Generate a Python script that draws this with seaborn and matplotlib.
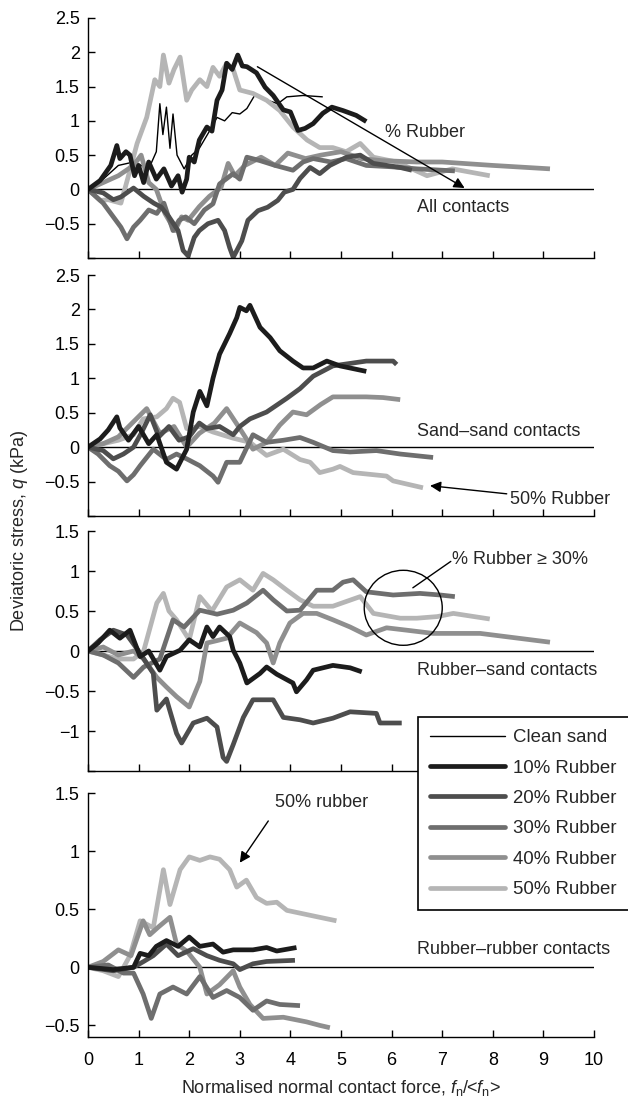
import matplotlib
matplotlib.use("Agg")
import matplotlib.pyplot as plt
import seaborn as sns
import numpy as np
import pandas as pd
from matplotlib.lines import Line2D
from matplotlib.patches import Ellipse
from matplotlib.ticker import FuncFormatter, MultipleLocator

# ---------------- data ----------------
series_labels = ["Clean sand", "10% Rubber", "20% Rubber", "30% Rubber", "40% Rubber", "50% Rubber"]
series_colors = ["#000000", "#1c1c1c", "#4d4d4d", "#6e6e6e", "#8f8f8f", "#b5b5b5"]
x_ticks = [0, 1, 2, 3, 4, 5, 6, 7, 8, 9, 10]

# Panel 1: all contacts
all_clean_x = [0, 0.3, 0.6, 0.9, 1.2, 1.35, 1.42, 1.48, 1.55, 1.62, 1.68, 1.76, 1.9, 2.05, 2.2, 2.4, 2.55, 2.7, 2.85, 3.0, 3.14, 3.3, 3.55, 3.75, 3.93, 4.25, 4.64]
all_clean_y = [0, 0.15, 0.35, 0.4, 0.3, 0.55, 1.25, 0.8, 1.2, 0.6, 1.1, 0.5, 0.3, 0.5, 0.6, 0.85, 1.05, 1.0, 1.12, 1.1, 1.18, 1.38, 1.3, 1.25, 1.35, 1.37, 1.35]
all_10_x = [0, 0.24, 0.45, 0.57, 0.63, 0.75, 0.83, 0.92, 1.0, 1.1, 1.2, 1.35, 1.5, 1.65, 1.78, 1.86, 1.95, 2.0, 2.1, 2.2, 2.35, 2.45, 2.55, 2.65, 2.74, 2.85, 2.96, 3.05, 3.14, 3.33, 3.5, 3.66, 3.86, 4.0, 4.15, 4.29, 4.45, 4.64, 4.82, 5.04, 5.3, 5.5]
all_10_y = [0, 0.13, 0.35, 0.64, 0.45, 0.55, 0.5, 0.2, 0.35, 0.1, 0.4, 0.15, 0.3, 0.05, 0.2, -0.04, 0.15, 0.47, 0.4, 0.72, 0.91, 0.85, 1.3, 1.45, 1.84, 1.75, 1.96, 1.8, 1.79, 1.7, 1.49, 1.37, 1.16, 1.13, 0.86, 0.89, 0.96, 1.11, 1.2, 1.15, 1.08, 0.99]
all_20_x = [0, 0.3, 0.5, 0.65, 0.9, 1.1, 1.3, 1.45, 1.6, 1.78, 1.88, 1.98, 2.1, 2.2, 2.37, 2.57, 2.7, 2.8, 2.87, 3.04, 3.16, 3.36, 3.55, 3.75, 3.88, 4.05, 4.19, 4.39, 4.58, 4.78, 5.11, 5.38, 5.64, 6.17, 6.4]
all_20_y = [0, -0.05, -0.15, -0.11, 0.02, -0.1, -0.2, -0.26, -0.4, -0.6, -0.89, -0.97, -0.7, -0.6, -0.5, -0.45, -0.6, -0.85, -0.99, -0.75, -0.45, -0.31, -0.26, -0.16, -0.04, 0.0, 0.16, 0.32, 0.23, 0.35, 0.47, 0.5, 0.38, 0.32, 0.28]
all_30_x = [0, 0.3, 0.5, 0.65, 0.77, 0.9, 1.03, 1.2, 1.36, 1.5, 1.68, 1.8, 1.93, 2.1, 2.3, 2.47, 2.6, 2.87, 3.0, 3.14, 3.4, 3.7, 4.05, 4.25, 4.45, 4.8, 5.1, 5.5, 6.0, 6.5, 7.25]
all_30_y = [0, -0.2, -0.4, -0.55, -0.72, -0.55, -0.45, -0.3, -0.35, -0.2, -0.6, -0.45, -0.4, -0.5, -0.3, -0.21, 0.08, 0.23, 0.15, 0.47, 0.42, 0.35, 0.28, 0.4, 0.45, 0.4, 0.45, 0.35, 0.33, 0.3, 0.27]
all_40_x = [0, 0.3, 0.6, 0.9, 1.05, 1.2, 1.35, 1.52, 1.72, 1.85, 1.98, 2.2, 2.4, 2.63, 2.77, 2.9, 3.1, 3.42, 3.7, 3.95, 4.3, 4.6, 5.0, 5.4, 5.8, 6.5, 7.0, 8.0, 9.13]
all_40_y = [0, 0.1, 0.2, 0.35, 0.5, 0.1, 0.0, -0.35, -0.6, -0.4, -0.45, -0.25, -0.1, 0.03, 0.38, 0.2, 0.35, 0.47, 0.35, 0.53, 0.45, 0.5, 0.55, 0.45, 0.42, 0.4, 0.4, 0.35, 0.3]
all_50_x = [0, 0.24, 0.4, 0.65, 0.8, 0.97, 1.16, 1.32, 1.42, 1.49, 1.6, 1.7, 1.82, 1.95, 2.05, 2.21, 2.35, 2.47, 2.6, 2.74, 2.87, 3.0, 3.26, 3.53, 3.79, 4.05, 4.33, 4.58, 4.84, 5.1, 5.38, 5.64, 6.1, 6.7, 7.2, 7.94]
all_50_y = [0, -0.16, -0.15, -0.2, 0.2, 0.67, 1.05, 1.6, 1.5, 1.96, 1.55, 1.75, 1.93, 1.3, 1.45, 1.6, 1.5, 1.78, 1.65, 1.84, 1.75, 1.45, 1.4, 1.3, 1.15, 0.91, 0.72, 0.61, 0.61, 0.55, 0.67, 0.47, 0.4, 0.2, 0.3, 0.2]

# Panel 2: sand-sand contacts
ss_10_x = [0, 0.24, 0.4, 0.57, 0.63, 0.8, 1.0, 1.2, 1.36, 1.55, 1.75, 1.95, 2.08, 2.21, 2.35, 2.47, 2.6, 2.8, 2.94, 3.0, 3.13, 3.2, 3.4, 3.6, 3.79, 4.05, 4.25, 4.45, 4.72, 4.98, 5.5]
ss_10_y = [0, 0.12, 0.25, 0.44, 0.28, 0.1, 0.3, 0.05, 0.18, -0.22, -0.32, -0.03, 0.51, 0.81, 0.6, 1.0, 1.35, 1.65, 1.88, 2.03, 1.98, 2.06, 1.74, 1.59, 1.4, 1.25, 1.15, 1.15, 1.25, 1.18, 1.1]
ss_20_x = [0, 0.3, 0.5, 0.7, 0.9, 1.05, 1.23, 1.4, 1.6, 1.8, 2.0, 2.2, 2.35, 2.6, 2.87, 3.0, 3.2, 3.53, 3.93, 4.19, 4.45, 4.84, 5.5, 6.03, 6.1]
ss_20_y = [0, -0.05, -0.17, -0.1, 0.0, 0.2, 0.47, 0.15, 0.3, 0.1, 0.15, 0.35, 0.27, 0.3, 0.18, 0.3, 0.41, 0.51, 0.71, 0.85, 1.03, 1.18, 1.25, 1.25, 1.2]
ss_30_x = [0, 0.2, 0.43, 0.6, 0.77, 0.9, 1.03, 1.29, 1.55, 1.75, 1.95, 2.21, 2.47, 2.57, 2.74, 3.0, 3.26, 3.53, 3.86, 4.19, 4.45, 4.84, 5.18, 5.7, 6.17, 6.82]
ss_30_y = [0, -0.1, -0.27, -0.35, -0.49, -0.4, -0.27, -0.03, -0.18, -0.1, -0.17, -0.27, -0.42, -0.51, -0.22, -0.22, 0.18, 0.07, 0.1, 0.14, 0.07, -0.05, -0.07, -0.05, -0.1, -0.15]
ss_40_x = [0, 0.3, 0.6, 0.9, 1.16, 1.42, 1.7, 1.95, 2.2, 2.5, 2.74, 3.0, 3.26, 3.53, 3.79, 4.05, 4.32, 4.6, 4.84, 5.18, 5.5, 5.83, 6.17]
ss_40_y = [0, 0.05, 0.15, 0.37, 0.56, 0.2, 0.3, 0.0, 0.2, 0.35, 0.56, 0.27, -0.03, 0.07, 0.32, 0.51, 0.47, 0.62, 0.73, 0.73, 0.73, 0.72, 0.69]
ss_50_x = [0, 0.3, 0.6, 0.9, 1.09, 1.36, 1.55, 1.68, 1.81, 1.95, 2.2, 2.47, 2.87, 3.2, 3.53, 3.86, 4.19, 4.39, 4.58, 4.84, 4.98, 5.24, 5.9, 6.03, 6.62]
ss_50_y = [0, 0.05, 0.1, 0.18, 0.41, 0.44, 0.56, 0.71, 0.65, 0.27, 0.3, 0.22, 0.13, 0.07, -0.12, -0.03, -0.18, -0.22, -0.37, -0.32, -0.28, -0.37, -0.42, -0.49, -0.59]

# Panel 3: rubber-sand contacts
rs_10_x = [0, 0.2, 0.43, 0.63, 0.83, 1.03, 1.2, 1.42, 1.55, 1.82, 2.0, 2.21, 2.35, 2.47, 2.6, 2.8, 2.87, 3.0, 3.14, 3.4, 3.53, 3.73, 4.05, 4.12, 4.32, 4.45, 4.84, 5.18, 5.41]
rs_10_y = [0, 0.1, 0.26, 0.16, 0.26, -0.07, 0.0, -0.24, -0.07, 0.01, 0.14, 0.05, 0.3, 0.18, 0.3, 0.18, 0.01, -0.15, -0.4, -0.28, -0.2, -0.29, -0.4, -0.51, -0.36, -0.24, -0.18, -0.21, -0.26]
rs_20_x = [0, 0.24, 0.5, 0.77, 1.0, 1.29, 1.36, 1.55, 1.75, 1.85, 2.08, 2.35, 2.55, 2.67, 2.74, 2.87, 3.07, 3.26, 3.66, 3.86, 4.19, 4.45, 4.84, 5.18, 5.7, 5.77, 6.2]
rs_20_y = [0, 0.14, 0.26, 0.2, 0.0, -0.28, -0.74, -0.6, -1.03, -1.15, -0.9, -0.84, -0.95, -1.33, -1.38, -1.17, -0.83, -0.61, -0.61, -0.83, -0.86, -0.9, -0.84, -0.76, -0.78, -0.9, -0.9]
rs_30_x = [0, 0.3, 0.6, 0.9, 1.1, 1.42, 1.68, 1.9, 2.21, 2.55, 2.87, 3.14, 3.46, 3.66, 3.93, 4.19, 4.52, 4.84, 5.04, 5.24, 5.5, 6.03, 6.56, 6.96, 7.25]
rs_30_y = [0, -0.05, -0.15, -0.33, -0.2, -0.1, 0.39, 0.3, 0.51, 0.46, 0.51, 0.6, 0.76, 0.64, 0.5, 0.51, 0.76, 0.76, 0.86, 0.89, 0.74, 0.7, 0.72, 0.7, 0.68]
rs_40_x = [0, 0.3, 0.6, 0.9, 1.1, 1.36, 1.55, 1.75, 2.0, 2.21, 2.35, 2.55, 2.74, 3.0, 3.33, 3.53, 3.66, 3.79, 3.99, 4.25, 4.52, 4.84, 5.18, 5.5, 5.9, 6.3, 6.82, 7.75, 9.13]
rs_40_y = [0, 0.05, -0.05, 0.0, -0.1, -0.33, -0.45, -0.57, -0.7, -0.38, 0.1, 0.13, 0.16, 0.35, 0.23, 0.1, -0.15, 0.1, 0.35, 0.47, 0.47, 0.39, 0.3, 0.2, 0.29, 0.26, 0.22, 0.22, 0.11]
rs_50_x = [0, 0.3, 0.6, 0.9, 1.1, 1.36, 1.49, 1.6, 1.75, 2.0, 2.21, 2.45, 2.74, 3.0, 3.26, 3.46, 3.66, 3.93, 4.19, 4.45, 4.84, 5.38, 5.64, 6.17, 6.5, 6.9, 7.22, 7.94]
rs_50_y = [0, -0.05, -0.1, -0.1, 0.0, 0.6, 0.72, 0.5, 0.39, 0.14, 0.68, 0.5, 0.8, 0.89, 0.76, 0.97, 0.89, 0.76, 0.64, 0.56, 0.56, 0.68, 0.47, 0.41, 0.41, 0.43, 0.47, 0.4]

# Panel 4: rubber-rubber contacts
rr_10_x = [0, 0.5, 0.9, 1.03, 1.2, 1.35, 1.55, 1.78, 2.0, 2.21, 2.47, 2.67, 2.87, 3.26, 3.53, 3.73, 4.12]
rr_10_y = [0, -0.02, 0.0, 0.12, 0.1, 0.18, 0.23, 0.18, 0.26, 0.18, 0.2, 0.13, 0.15, 0.15, 0.17, 0.14, 0.17]
rr_20_x = [0, 0.5, 0.9, 1.1, 1.29, 1.55, 1.78, 2.08, 2.35, 2.6, 2.87, 3.0, 3.26, 3.53, 4.09]
rr_20_y = [0, -0.03, 0.0, 0.05, 0.1, 0.2, 0.1, 0.16, 0.1, 0.06, 0.03, -0.02, 0.03, 0.05, 0.06]
rr_30_x = [0, 0.4, 0.7, 0.9, 1.09, 1.25, 1.42, 1.68, 1.95, 2.21, 2.47, 2.74, 3.0, 3.26, 3.53, 3.79, 4.19]
rr_30_y = [0, 0.02, -0.05, -0.05, -0.23, -0.44, -0.23, -0.17, -0.23, -0.08, -0.26, -0.2, -0.26, -0.37, -0.29, -0.32, -0.33]
rr_40_x = [0, 0.3, 0.6, 0.85, 1.09, 1.22, 1.4, 1.62, 1.75, 1.95, 2.21, 2.35, 2.6, 2.87, 3.0, 3.2, 3.46, 3.86, 4.32, 4.58, 4.78]
rr_40_y = [0, 0.05, 0.15, 0.1, 0.4, 0.28, 0.35, 0.43, 0.2, 0.14, 0.0, -0.23, -0.15, -0.03, -0.17, -0.32, -0.44, -0.43, -0.47, -0.5, -0.52]
rr_50_x = [0, 0.3, 0.6, 0.83, 1.03, 1.29, 1.49, 1.62, 1.82, 2.0, 2.21, 2.41, 2.6, 2.8, 2.94, 3.13, 3.33, 3.53, 3.73, 3.93, 4.58, 4.91]
rr_50_y = [0, -0.03, -0.08, 0.1, 0.4, 0.34, 0.84, 0.54, 0.84, 0.95, 0.92, 0.95, 0.93, 0.84, 0.69, 0.75, 0.6, 0.55, 0.56, 0.49, 0.43, 0.4]

panel_ylims = [(-1, 2.5), (-1, 2.5), (-1.5, 1.5), (-0.6, 1.5)]
panel_names = ["All contacts", "Sand\u2013sand contacts", "Rubber\u2013sand contacts", "Rubber\u2013rubber contacts"]

# ---------------- style ----------------
sns.set_style("ticks")
plt.rcParams["font.family"] = ["Liberation Sans", "DejaVu Sans"]
plt.rcParams["mathtext.fontset"] = "custom"
plt.rcParams["mathtext.rm"] = "Liberation Sans"
plt.rcParams["mathtext.it"] = "Liberation Sans:italic"
FS = 13

fig = plt.figure(figsize=(6.28, 11.03), dpi=100)
W, H = 628.0, 1103.0
left_px, right_px = 88, 594
panel_px = [(18, 258), (275, 516), (531, 771), (793, 1037)]
axes = []
for top, bot in panel_px:
    ax = fig.add_axes([left_px / W, 1 - bot / H, (right_px - left_px) / W, (bot - top) / H])
    axes.append(ax)

def draw_series(ax, xs, ys, color, lw):
    df = pd.DataFrame({"x": xs, "y": ys})
    sns.lineplot(data=df, x="x", y="y", ax=ax, color=color, lw=lw, sort=False,
                 estimator=None, solid_joinstyle="round", solid_capstyle="butt")

THICK = 3.4
THIN = 1.0
panel_data = [
    [(all_clean_x, all_clean_y, 0), (all_50_x, all_50_y, 5), (all_40_x, all_40_y, 4),
     (all_30_x, all_30_y, 3), (all_20_x, all_20_y, 2), (all_10_x, all_10_y, 1)],
    [(ss_50_x, ss_50_y, 5), (ss_40_x, ss_40_y, 4), (ss_30_x, ss_30_y, 3),
     (ss_20_x, ss_20_y, 2), (ss_10_x, ss_10_y, 1)],
    [(rs_50_x, rs_50_y, 5), (rs_40_x, rs_40_y, 4), (rs_30_x, rs_30_y, 3),
     (rs_20_x, rs_20_y, 2), (rs_10_x, rs_10_y, 1)],
    [(rr_50_x, rr_50_y, 5), (rr_40_x, rr_40_y, 4), (rr_30_x, rr_30_y, 3),
     (rr_20_x, rr_20_y, 2), (rr_10_x, rr_10_y, 1)],
]

def fmt(v, pos):
    s = f"{v:g}"
    return s.replace("-", "\u2212")

for i, ax in enumerate(axes):
    for xs, ys, k in panel_data[i]:
        draw_series(ax, xs, ys, series_colors[k], THIN if k == 0 else THICK)
    ax.axhline(0, color="black", lw=1.0, zorder=1)
    ax.set_xlim(0, 10)
    ax.set_ylim(*panel_ylims[i])
    ax.set_xticks(x_ticks)
    ax.yaxis.set_major_locator(MultipleLocator(0.5))
    ax.yaxis.set_major_formatter(FuncFormatter(fmt))
    ax.tick_params(direction="in", length=5, width=1, labelsize=FS, colors="black")
    ax.tick_params(axis="y", pad=6)
    ax.tick_params(axis="x", pad=11)
    for s in ["top", "right"]:
        ax.spines[s].set_visible(False)
    for s in ["left", "bottom"]:
        ax.spines[s].set_linewidth(1.0)
        ax.spines[s].set_color("black")
    ax.set_xlabel("")
    ax.set_ylabel("")
    if i < 3:
        ax.tick_params(axis="x", labelbottom=False)
        lo = panel_ylims[i][0]
        ax.yaxis.set_major_formatter(FuncFormatter(lambda v, p, lo=lo: "" if abs(v - lo) < 1e-9 else fmt(v, p)))

# ---------------- annotations ----------------
a0, a1, a2, a3 = axes
a0.annotate("", xy=(7.49, 0.0), xytext=(3.3, 1.81),
            arrowprops=dict(arrowstyle="-|>", color="black", lw=1.0, mutation_scale=16))
a0.text(5.87, 0.83, "% Rubber", fontsize=FS, va="center", ha="left")
a0.text(6.5, -0.26, panel_names[0], fontsize=FS, va="center", ha="left")

a1.text(6.5, 0.22, panel_names[1], fontsize=FS, va="center", ha="left")
a1.annotate("50% Rubber", xy=(6.76, -0.56), xytext=(8.34, -0.76), fontsize=FS,
            va="center", ha="left", annotation_clip=False,
            arrowprops=dict(arrowstyle="-|>", color="black", lw=1.0, mutation_scale=16,
                            shrinkA=0, shrinkB=0))

a2.add_patch(Ellipse((6.23, 0.54), 78 / 50.6, 75 / 80.0, fill=False, ec="black", lw=1.0, zorder=5))
a2.plot([6.42, 7.17], [0.79, 1.12], color="black", lw=1.0)
a2.text(7.19, 1.14, "% Rubber \u2265 30%", fontsize=FS, va="center", ha="left")
a2.text(6.5, -0.24, panel_names[2], fontsize=FS, va="center", ha="left")

a3.annotate("50% rubber", xy=(3.0, 0.9), xytext=(3.7, 1.42), fontsize=FS,
            va="center", ha="left",
            arrowprops=dict(arrowstyle="-|>", color="black", lw=1.0, mutation_scale=16,
                            shrinkA=6, shrinkB=0, relpos=(0.0, 0.0)))
a3.text(6.5, 0.15, panel_names[3], fontsize=FS, va="center", ha="left")

# axis labels
fig.text(20 / W, 1 - 531 / H, "Deviatoric stress, $q$ (kPa)", rotation=90, fontsize=FS,
         va="center", ha="center")
fig.text((left_px + right_px) / 2 / W, 1 - 1088 / H,
         "Normalised normal contact force, $f_\\mathrm{n}$/<$f_\\mathrm{n}$>",
         fontsize=FS, va="center", ha="center")

# legend
handles = [Line2D([0], [0], color=series_colors[k], lw=(THIN if k == 0 else THICK))
           for k in range(6)]
leg = fig.legend(handles, series_labels, loc="upper left",
                 bbox_to_anchor=(418 / W, 1 - 717 / H), frameon=True, fancybox=False,
                 edgecolor="black", framealpha=1, fontsize=13.4, handlelength=4.0,
                 handletextpad=0.45, labelspacing=0.72, borderpad=0.65, borderaxespad=0)
leg.get_frame().set_linewidth(1.2)

fig.savefig("out.png", dpi=100)
